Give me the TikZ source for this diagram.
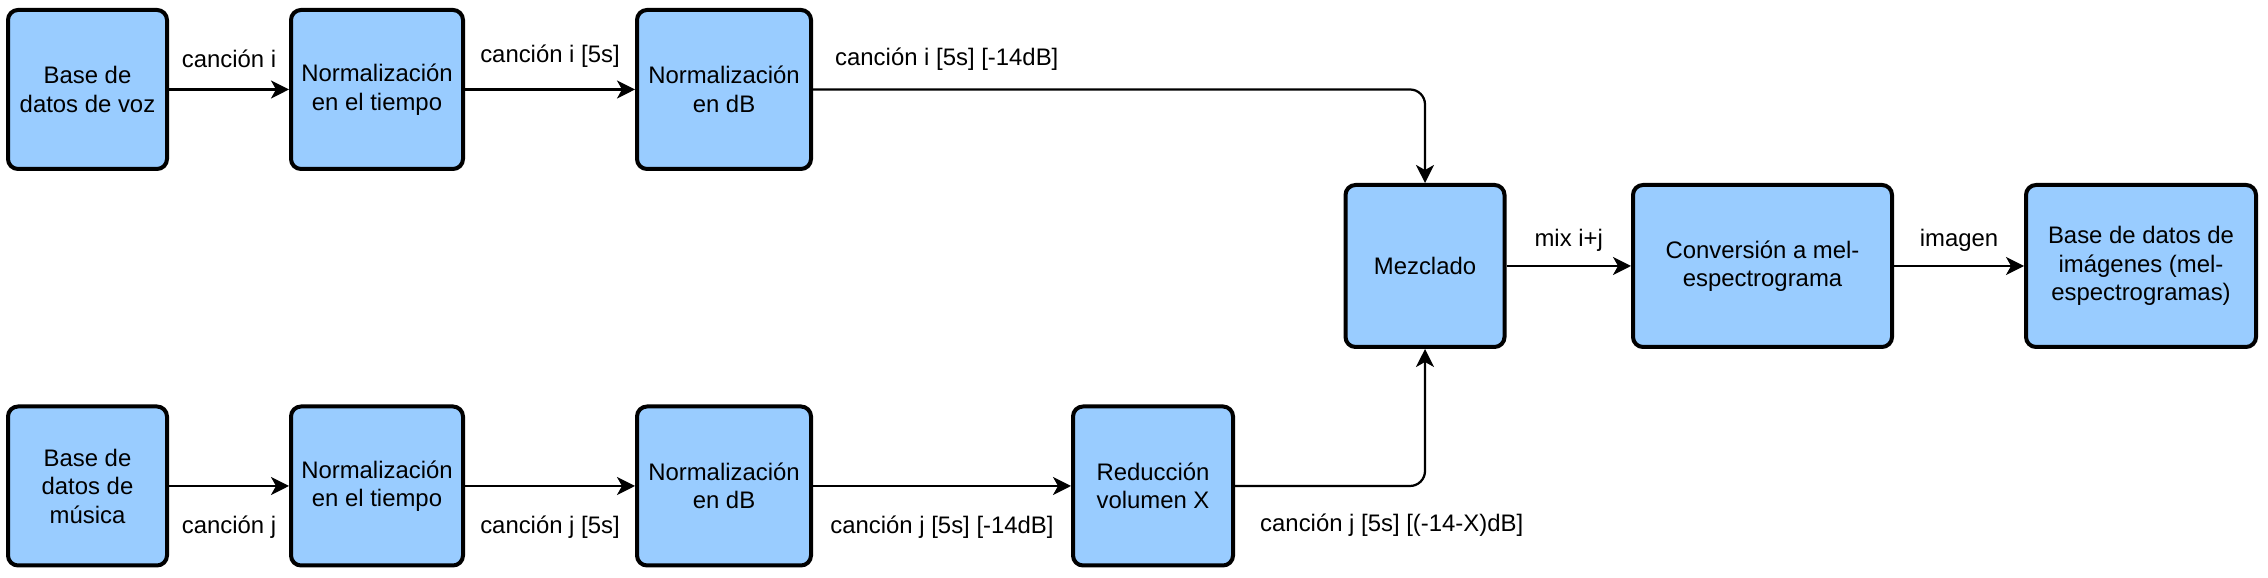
\documentclass[tikz,border=0pt]{standalone}
\usepackage{fontspec}
\setmainfont{Liberation Sans}
\usetikzlibrary{arrows.meta}
\definecolor{boxblue}{HTML}{99CCFF}
\begin{document}
\begin{tikzpicture}[font=\fontsize{13.6pt}{16.2pt}\selectfont,
    block/.style={draw, line width=0.08cm, fill=boxblue, rounded corners=0.2cm,
      align=center, minimum height=3.18cm, inner sep=0pt},
    flow/.style={line width=0.045cm, -{Stealth[length=0.36cm, width=0.36cm, inset=0.1cm]}}]
  \useasboundingbox (0,0) rectangle (45.36,11.56);
  \node [block, minimum width=3.18cm] (vozdb) at (1.75,9.77) {Base de\\datos de voz};
  \node [block, minimum width=3.44cm] (vtiempo) at (7.54,9.77) {Normalización\\en el tiempo};
  \node [block, minimum width=3.48cm] (vdb) at (14.48,9.77) {Normalización\\en dB};
  \node [block, minimum width=3.18cm] (musdb) at (1.75,1.84) {Base de\\datos de\\música};
  \node [block, minimum width=3.44cm] (mtiempo) at (7.54,1.84) {Normalización\\en el tiempo};
  \node [block, minimum width=3.48cm] (mdb) at (14.48,1.84) {Normalización\\en dB};
  \node [block, minimum width=3.2cm] (reduc) at (23.06,1.84) {Reducción\\volumen X};
  \node [block, minimum width=3.18cm, minimum height=3.24cm] (mezcla) at (28.5,6.24) {Mezclado};
  \node [block, minimum width=5.18cm, minimum height=3.24cm] (melconv) at (35.25,6.24) {Conversión a mel-\\espectrograma};
  \node [block, minimum width=4.6cm, minimum height=3.24cm] (imgdb) at (42.82,6.24) {Base de datos de\\imágenes (mel-\\espectrogramas)};
  \draw [flow] (vozdb) -- node [above=0.3cm] {canción i} (vtiempo);
  \draw [flow] (vtiempo) -- node [above=0.3cm] {canción i [5s]} (vdb);
  \draw [flow, rounded corners=0.3cm] (vdb.east) -| (mezcla.north);
  \node [anchor=west] (lblvdb) at (16.58,10.38) {canción i [5s] [-14dB]};
  \draw [flow] (musdb) -- node [below=0.45cm] {canción j} (mtiempo);
  \draw [flow] (mtiempo) -- node [below=0.45cm] {canción j [5s]} (mdb);
  \draw [flow] (mdb) -- node [below=0.45cm] {canción j [5s] [-14dB]} (reduc);
  \draw [flow, rounded corners=0.3cm] (reduc.east) -| (mezcla.south);
  \node [anchor=west] (lblreduc) at (25.08,1.06) {canción j [5s] [(-14-X)dB]};
  \draw [flow] (mezcla) -- node [above=0.15cm] {mix i+j} (melconv);
  \draw [flow] (melconv) -- node [above=0.15cm] {imagen} (imgdb);
\end{tikzpicture}
\end{document}
